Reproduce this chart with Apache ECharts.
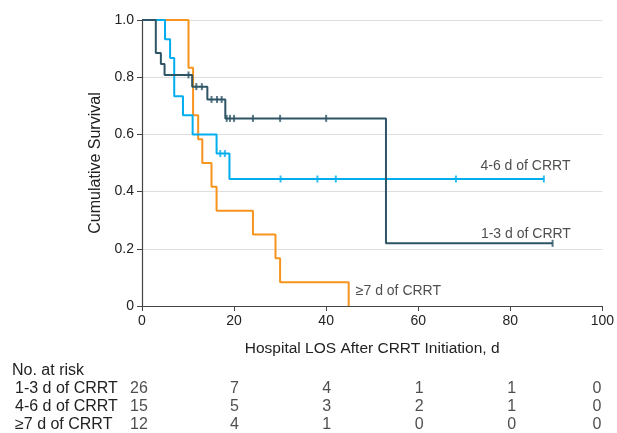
<!DOCTYPE html>
<html>
<head>
<meta charset="utf-8">
<script src="https://cdn.jsdelivr.net/npm/echarts@6/dist/echarts.min.js"></script>
<style>html,body{margin:0;padding:0;background:#fff}#c{width:617px;height:433px}</style>
</head>
<body>
<div id="c"></div>
<script>
// ---- data ----
var groupNames = ['1-3 d of CRRT', '4-6 d of CRRT', '\u22657 d of CRRT'];
var groupColors = ['#2e5566', '#00aeef', '#f7941d'];

// Kaplan-Meier steps (time, survival after that time)
var t13 = [0, 3, 4.1, 4.9, 10.9, 14.2, 18.1, 53, 89.2];
var s13 = [1, 0.885, 0.846, 0.808, 0.767, 0.722, 0.656, 0.219, 0.219];
var t46 = [0, 5, 6.1, 7, 8.9, 11, 16.2, 19, 87.3];
var s46 = [1, 0.933, 0.867, 0.733, 0.667, 0.6, 0.533, 0.444, 0.444];
var t7 = [0, 10.1, 11.1, 12.2, 13.1, 15.1, 16.2, 24.1, 29, 30, 44.9];
var s7 = [1, 0.833, 0.667, 0.583, 0.5, 0.417, 0.333, 0.25, 0.167, 0.083, 0];

// censor marks
var c13t = [10.1, 11.8, 13.0, 15.1, 16.3, 17.3, 18.4, 19.1, 20.0, 24.1, 30.0, 40.0, 89.2];
var c13s = [0.808, 0.767, 0.767, 0.722, 0.722, 0.722, 0.656, 0.656, 0.656, 0.656, 0.656, 0.656, 0.219];
var c46t = [17.0, 18.0, 30.1, 38.1, 42.1, 68.2, 87.3];
var c46s = [0.533, 0.533, 0.444, 0.444, 0.444, 0.444, 0.444];

// curve labels (data coords)
var labelX = [83.4, 83.3, 55.7];
var labelY = [0.25, 0.49, 0.053];

// number at risk
var riskTimes = [0, 20, 40, 60, 80, 100];
var risk13 = [26, 7, 4, 1, 1, 0];
var risk46 = [15, 5, 3, 2, 1, 0];
var risk7 = [12, 4, 1, 0, 0, 0];

// ---- build ----
function zip(a, b) { return a.map(function (v, i) { return [v, b[i]]; }); }
var FONT = 'Liberation Sans';
var TXT = '#222';
var BIG = 16;

var curves = [zip(t13, s13), zip(t46, s46), zip(t7, s7)];
var censors = [zip(c13t, c13s), zip(c46t, c46s)];
var risks = [risk13, risk46, risk7];

var series = [];
curves.forEach(function (d, i) {
  series.push({
    type: 'line', step: 'end', data: d, xAxisIndex: 0, yAxisIndex: 0,
    showSymbol: false, symbol: 'none', silent: true,
    lineStyle: { color: groupColors[i], width: 2 }, z: 3 - i + 2
  });
});
censors.forEach(function (d, i) {
  series.push({
    type: 'scatter', data: d, xAxisIndex: 0, yAxisIndex: 0,
    symbol: 'rect', symbolSize: [2, 7], silent: true,
    itemStyle: { color: groupColors[i] }, z: 6
  });
});
series.push({
  type: 'scatter', xAxisIndex: 0, yAxisIndex: 0, symbolSize: 0, silent: true,
  data: groupNames.map(function (n, i) { return { value: [labelX[i], labelY[i]], name: n }; }),
  label: { show: true, position: 'inside', formatter: '{b}', color: TXT, fontSize: 14, fontFamily: FONT },
  z: 7
});
// risk table
risks.forEach(function (r, i) {
  series.push({
    type: 'scatter', xAxisIndex: 1, yAxisIndex: 1, symbolSize: 0, silent: true,
    data: r.map(function (v, j) {
      var item = { value: [riskTimes[j], groupNames[i], v] };
      if (j === 0) item.label = { offset: [-3, 0] };
      if (j === riskTimes.length - 1) item.label = { offset: [-7, 0] };
      return item;
    }),
    label: { show: true, position: 'inside', formatter: function (p) { return p.value[2]; },
      color: TXT, fontSize: BIG, fontFamily: FONT }
  });
});

var chart = echarts.init(document.getElementById('c'), null, { renderer: 'canvas' });
chart.setOption({
  animation: false,
  backgroundColor: '#fff',
  textStyle: { fontFamily: FONT },
  grid: [
    { left: 142, right: 13, top: 20, bottom: 127 },
    { left: 142, right: 13, top: 380, height: 54 }
  ],
  xAxis: [
    {
      type: 'value', gridIndex: 0, min: 0, max: 100, interval: 20,
      name: 'Hospital LOS After CRRT Initiation, d', nameLocation: 'middle', nameGap: 35,
      nameTextStyle: { color: TXT, fontSize: 15.5, fontFamily: FONT },
      axisLine: { show: true, lineStyle: { color: '#444', width: 1.2 } },
      axisTick: { show: true, length: 5, lineStyle: { color: '#444' } },
      axisLabel: { color: TXT, fontSize: 14, fontFamily: FONT, margin: 8 },
      splitLine: { show: false }
    },
    {
      type: 'value', gridIndex: 1, min: 0, max: 100, show: false
    }
  ],
  yAxis: [
    {
      type: 'value', gridIndex: 0, min: 0, max: 1, interval: 0.2,
      name: 'Cumulative Survival', nameLocation: 'middle', nameGap: 38,
      nameTextStyle: { color: TXT, fontSize: BIG, fontFamily: FONT },
      axisLine: { show: true, lineStyle: { color: '#444', width: 1.2 } },
      axisTick: { show: true, length: 5, lineStyle: { color: '#444' } },
      axisLabel: { color: TXT, fontSize: 14, fontFamily: FONT, margin: 8,
        formatter: function (v) { return v === 0 ? '0' : v.toFixed(1); } },
      splitLine: { show: true, lineStyle: { color: '#dedede', width: 1.2 } }
    },
    {
      type: 'category', gridIndex: 1, data: groupNames, inverse: true,
      axisLine: { show: false }, axisTick: { show: false },
      axisLabel: { color: TXT, fontSize: BIG, fontFamily: FONT, align: 'left', margin: 127, interval: 0 },
      splitLine: { show: false }
    }
  ],
  graphic: [
    { type: 'text', left: 12, top: 363,
      style: { text: 'No. at risk', fill: TXT, font: BIG + 'px "' + FONT + '"' } }
  ],
  series: series
});
</script>
</body>
</html>
